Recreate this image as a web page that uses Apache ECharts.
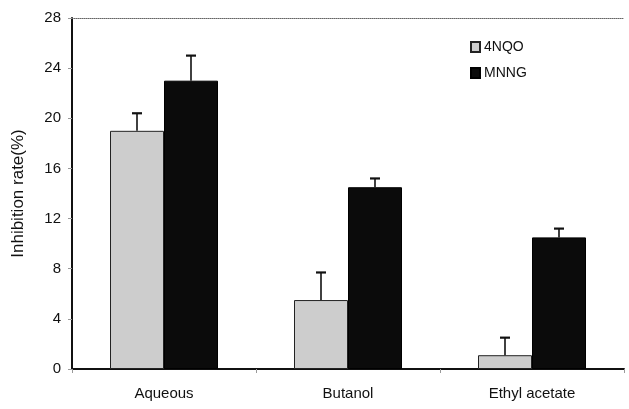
<!DOCTYPE html>
<html><head><meta charset="utf-8">
<script src="https://cdn.jsdelivr.net/npm/echarts@6/dist/echarts.min.js"></script>
<style>html,body{margin:0;padding:0;background:#fff}#c{width:629px;height:409px}</style>
</head><body><div id="c"></div>
<script>
var categories = ['Aqueous', 'Butanol', 'Ethyl acetate'];
var nqoValues = [19.0, 5.5, 1.1];
var nqoErrors = [1.4, 2.2, 1.4];
var mnngValues = [23.0, 14.5, 10.5];
var mnngErrors = [2.0, 0.7, 0.7];
var yTicks = [0, 4, 8, 12, 16, 20, 24, 28];

var BAR_W = 54;
function errSeries(vals, errs, side) {
  return {
    type: 'custom', z: 5, silent: true,
    data: vals.map(function (v, i) { return [i, v, v + errs[i]]; }),
    renderItem: function (params, api) {
      var lo = api.coord([api.value(0), api.value(1)]);
      var hi = api.coord([api.value(0), api.value(2)]);
      var x = lo[0] + side * BAR_W / 2;
      var cap = 5;
      return { type: 'group', children: [
        { type: 'line', shape: { x1: x, y1: lo[1], x2: x, y2: hi[1] }, style: { stroke: '#111', lineWidth: 1.6 } },
        { type: 'line', shape: { x1: x - cap, y1: hi[1], x2: x + cap, y2: hi[1] }, style: { stroke: '#111', lineWidth: 2.2 } }
      ]};
    }
  };
}

var chart = echarts.init(document.getElementById('c'));
chart.setOption({
  animation: false,
  textStyle: { fontFamily: 'Liberation Sans, Arial, sans-serif' },
  grid: { left: 72, right: 5, top: 18, bottom: 40 },
  legend: {
    orient: 'vertical', left: 465, top: 35, itemGap: 12, itemGap: 12,
    itemWidth: 9, itemHeight: 10, icon: 'rect',
    textStyle: { fontSize: 14, color: '#111', padding: [0, 0, 0, -1] },
    data: ['4NQO', 'MNNG']
  },
  xAxis: [{
    type: 'category', data: categories, position: 'bottom',
    axisLine: { lineStyle: { color: '#111', width: 2 } },
    axisTick: { show: true, length: 4, lineStyle: { color: '#999' } },
    axisLabel: { fontSize: 15, color: '#111', margin: 17 }
  }, {
    type: 'category', data: categories, position: 'top',
    axisLine: { show: true, lineStyle: { color: '#666', width: 1, type: 'dotted' } },
    axisTick: { show: false }, axisLabel: { show: false }
  }],
  yAxis: {
    type: 'value', min: yTicks[0], max: yTicks[yTicks.length - 1], interval: 4,
    name: 'Inhibition rate(%)', nameLocation: 'middle', nameGap: 45,
    nameTextStyle: { fontSize: 17, color: '#111' },
    axisLine: { show: true, lineStyle: { color: '#111', width: 2 } },
    axisTick: { show: true, length: 4, lineStyle: { color: '#999' } },
    axisLabel: { fontSize: 15, color: '#111', margin: 11 },
    splitLine: { show: false }
  },
  series: [
    { name: '4NQO', type: 'bar', data: nqoValues, barWidth: BAR_W, barGap: '0%',
      itemStyle: { color: '#cdcdcd', borderColor: '#222', borderWidth: 1 } },
    { name: 'MNNG', type: 'bar', data: mnngValues, barWidth: BAR_W, barGap: '0%',
      itemStyle: { color: '#0b0b0b', borderColor: '#000', borderWidth: 1 } },
    errSeries(nqoValues, nqoErrors, -1),
    errSeries(mnngValues, mnngErrors, 1)
  ]
});
</script></body></html>
